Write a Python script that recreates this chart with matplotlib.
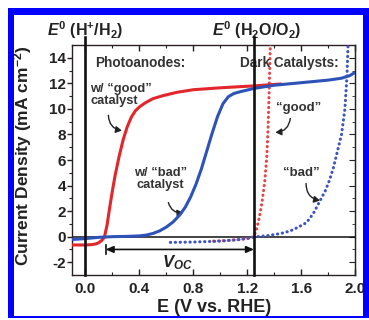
import matplotlib
matplotlib.use("Agg")
import matplotlib.pyplot as plt
from matplotlib.patches import Rectangle

plt.rcParams['font.family'] = ['Liberation Sans', 'DejaVu Sans']
plt.rcParams['font.weight'] = 'bold'
plt.rcParams['mathtext.fontset'] = 'custom'
plt.rcParams['mathtext.rm'] = 'Liberation Sans:bold'
plt.rcParams['mathtext.it'] = 'Liberation Sans:bold:italic'
plt.rcParams['mathtext.bf'] = 'Liberation Sans:bold'

# ---------------- data ----------------
# photoanode with "good" catalyst (red solid)
good_E = [-0.10, 0.00, 0.05, 0.08, 0.10, 0.12, 0.14, 0.16, 0.18, 0.20, 0.22, 0.25, 0.28,
          0.31, 0.34, 0.37, 0.40, 0.44, 0.50, 0.58, 0.68, 0.80, 1.00, 1.25, 1.45]
good_J = [-0.65, -0.65, -0.62, -0.56, -0.46, -0.30, -0.05, 0.9, 2.3, 3.6, 4.8, 6.3, 7.6,
          8.6, 9.35, 9.85, 10.15, 10.45, 10.8, 11.05, 11.3, 11.5, 11.65, 11.8, 11.95]

# photoanode with "bad" catalyst (blue solid)
bad_E = [-0.10, 0.00, 0.10, 0.20, 0.30, 0.40, 0.45, 0.50, 0.55, 0.60, 0.65, 0.70, 0.74,
         0.78, 0.82, 0.86, 0.90, 0.94, 0.98, 1.02, 1.06, 1.10, 1.15, 1.25, 1.40, 1.55,
         1.70, 1.80, 1.90, 1.96, 2.00]
bad_J = [-0.22, -0.15, -0.05, 0.0, 0.02, 0.06, 0.12, 0.25, 0.45, 0.75, 1.15, 1.7, 2.3,
         3.1, 4.1, 5.3, 6.7, 8.1, 9.4, 10.4, 10.95, 11.2, 11.35, 11.6, 11.85, 12.0,
         12.15, 12.25, 12.4, 12.6, 12.85]

# dark "good" catalyst (red dotted)
dark_good_E = [0.95, 1.05, 1.15, 1.21, 1.25, 1.27, 1.29, 1.31, 1.33, 1.345, 1.355,
               1.362, 1.368, 1.373]
dark_good_J = [-0.35, -0.30, -0.22, -0.12, 0.0, 0.6, 1.5, 2.7, 4.3, 6.2, 8.5,
               11.0, 13.5, 15.5]

# dark "bad" catalyst (blue dotted)
dark_bad_E = [0.63, 0.80, 1.00, 1.15, 1.22, 1.27, 1.35, 1.45, 1.52, 1.58, 1.64, 1.69,
              1.74, 1.78, 1.81, 1.84, 1.87, 1.90, 1.925, 1.94, 1.95]
dark_bad_J = [-0.45, -0.42, -0.35, -0.22, -0.10, 0.0, 0.08, 0.25, 0.45, 0.75, 1.1, 1.8,
              2.8, 3.6, 4.4, 5.4, 6.7, 8.0, 10.0, 12.5, 15.5]

E_H2 = 0.0       # E0(H+/H2)
E_O2 = 1.25      # E0(H2O/O2)
voc_start = 0.15
voc_y = -1.0

xticks = [0.0, 0.4, 0.8, 1.2, 1.6, 2.0]
xticklabels = ['0.0', '0.4', '0.8', '1.2', '1.6', '2.0']
yticks = [-2, 0, 2, 4, 6, 8, 10, 12, 14]
yticklabels = ['-2', '0', '2', '4', '6', '8', '10', '12', '14']
xminor = [0.2, 0.6, 1.0, 1.4, 1.8]
yminor = [-1, 1, 3, 5, 7, 9, 11, 13]

# ---------------- figure ----------------
W, H = 369, 320
fig = plt.figure(figsize=(W / 100, H / 100), dpi=100)
fig.patch.set_facecolor('white')

# blue frame
def px_rect(x0, y0, x1, y1):
    return Rectangle((x0 / W, 1 - y1 / H), (x1 - x0) / W, (y1 - y0) / H,
                     transform=fig.transFigure, facecolor='#0000ff', edgecolor='none')
for r in [px_rect(8, 8, 14, 318), px_rect(8, 8, 369, 15),
          px_rect(363, 8, 369, 318), px_rect(8, 316, 369, 318)]:
    fig.patches.append(r)

ax = fig.add_axes([72 / W, 45 / H, 283 / W, 230 / H])
ax.set_xlim(-0.1, 2.0)
ax.set_ylim(-3, 15)

red = '#e3262b'
blue = '#2d52b8'
dots = (0, (0.1, 1.5))
ax.plot(dark_good_E, dark_good_J, color='#e8454a', lw=2.2, linestyle=dots,
        dash_capstyle='round', zorder=3)
ax.plot(dark_bad_E, dark_bad_J, color='#3c55c0', lw=2.2, linestyle=dots,
        dash_capstyle='round', zorder=3)
ax.plot(good_E, good_J, color=red, lw=2.2, solid_capstyle='round', zorder=4)
ax.plot(bad_E, bad_J, color=blue, lw=2.2, solid_capstyle='butt', zorder=4)

# reference lines
ax.axhline(0, color='#111111', lw=1.1, zorder=2)
for xv in (E_H2, E_O2):
    ax.axvline(xv, ymin=0, ymax=1.035, color='#111111', lw=1.9, clip_on=False, zorder=5)

# axes styling
for s in ax.spines.values():
    s.set_color('#2a2020')
    s.set_linewidth(1.0)
ax.set_xticks(xticks)
ax.set_xticklabels(xticklabels)
ax.set_yticks(yticks)
ax.set_yticklabels(yticklabels)
ax.set_xticks(xminor, minor=True)
ax.set_yticks(yminor, minor=True)
ax.tick_params(axis='x', which='both', direction='in', top=True, bottom=True,
               labelsize=11, pad=5, colors='#222222')
ax.tick_params(axis='x', which='major', length=4, width=1)
ax.tick_params(axis='x', which='minor', length=2.5, width=0.8)
ax.tick_params(axis='y', which='both', direction='out', left=True, right=False,
               labelsize=11, pad=1, colors='#222222')
ax.tick_params(axis='y', which='major', length=3.5, width=1)
ax.tick_params(axis='y', which='minor', length=2, width=0.8)
# right-side inward ticks
ax2 = ax.secondary_yaxis('right')
ax2.set_yticks(yticks)
ax2.set_yticks(yminor, minor=True)
ax2.tick_params(which='both', direction='in', labelright=False, colors='#222222')
ax2.tick_params(which='major', length=4)
ax2.tick_params(which='minor', length=2.5)
ax2.spines['right'].set_color('#2a2020')

ax.set_xlabel('E (V vs. RHE)', fontsize=13, fontweight='bold', color='#222222')
ax.xaxis.set_label_coords(0.503, -0.105)
ax.set_ylabel('Current Density (mA cm$^{-2}$)', fontsize=12.5, fontweight='bold',
              color='#222222')
ax.yaxis.set_label_coords(-0.135, 0.517)

# top labels
xt = ax.get_xaxis_transform()
ax.text(E_H2, 1.065, r'$E^{\mathit{0}}$ (H$^{+}$/H$_{2}$)', transform=xt, ha='center',
        va='center', fontsize=11.5, color='#222222', clip_on=False)
ax.text(E_O2 + 0.02, 1.065, r'$E^{\mathit{0}}$ (H$_{2}$O/O$_{2}$)', transform=xt,
        ha='center', va='center', fontsize=11.5, color='#222222', clip_on=False)

# annotations
tc = '#333333'
ax.text(0.074, 13.57, 'Photoanodes:', fontsize=9.8, ha='left', va='center', color=tc)
ax.text(1.875, 13.57, 'Dark Catalysts:', fontsize=9.8, ha='right', va='center', color=tc)
ax.text(0.037, 11.05, 'w/ \u201cgood\u201d\ncatalyst', fontsize=9.3, ha='left', va='center',
        color=tc, linespacing=1.0)
ax.text(0.556, 4.5, 'w/ \u201cbad\u201d\ncatalyst', fontsize=9.3, ha='center', va='center',
        color=tc, linespacing=1.0, multialignment='center')
ax.text(1.58, 10.1, '\u201cgood\u201d', fontsize=9.5, ha='center', va='center', color=tc)
ax.text(1.60, 5.0, '\u201cbad\u201d', fontsize=9.5, ha='center', va='center', color=tc)

ap = dict(arrowstyle='-|>,head_length=0.35,head_width=0.2', color='#222222', lw=1.0,
          shrinkA=0, shrinkB=0)
ax.annotate('', xy=(0.27, 8.3), xytext=(0.17, 9.5),
            arrowprops=dict(ap, connectionstyle='arc3,rad=0.4'))
ax.annotate('', xy=(1.41, 8.16), xytext=(1.52, 9.25),
            arrowprops=dict(ap, connectionstyle='arc3,rad=-0.4'))
ax.annotate('', xy=(0.726, 1.88), xytext=(0.615, 2.67),
            arrowprops=dict(ap, connectionstyle='arc3,rad=0.4'))
ax.annotate('', xy=(1.74, 2.82), xytext=(1.637, 4.16),
            arrowprops=dict(ap, connectionstyle='arc3,rad=0.4'))

# V_OC arrow
ax.annotate('', xy=(E_O2, voc_y), xytext=(voc_start, voc_y),
            arrowprops=dict(arrowstyle='<|-|>,head_length=0.45,head_width=0.2',
                            color='#111111', lw=1.2, shrinkA=0, shrinkB=0))
ax.plot([voc_start, voc_start], [voc_y - 0.35, voc_y + 0.35], color='#111111', lw=1.2)
ax.text(0.68, -2.05, '$V_{OC}$', fontsize=12, ha='center', va='center', color='#222222')

fig.savefig('out.png', dpi=100, facecolor='white')
